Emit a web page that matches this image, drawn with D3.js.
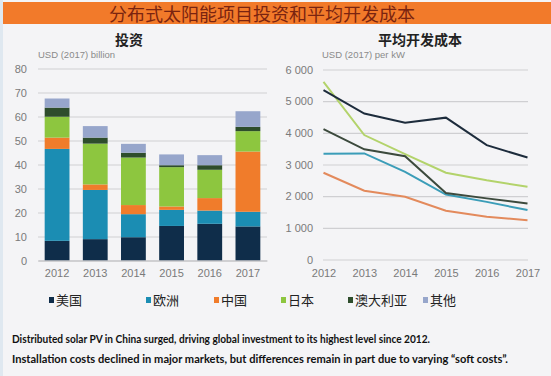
<!DOCTYPE html>
<html>
<head>
<meta charset="utf-8">
<script src="https://cdn.jsdelivr.net/npm/d3@7"></script>
<style>
  body { margin: 0; background: #f4f4f6; }
  svg { display: block; }
</style>
</head>
<body>
<div id="chart"></div>
<script>
// data
const years = ["2012", "2013", "2014", "2015", "2016", "2017"];
const regions = ["美国", "欧洲", "中国", "日本", "澳大利亚", "其他"];
const colors = ["#0f2d4a", "#1b8db3", "#f07c2b", "#8dc63f", "#2e4d2c", "#97a6cb"];
const lineColors = ["#1d2c3c", "#3b9db8", "#e38a5c", "#b3d36b", "#3c4a3d"];

// investment, USD (2017) billion, stacked segments per region
const invUS = [8.2, 8.9, 9.7, 14.4, 15.3, 14.2];
const invEU = [38.3, 20.5, 9.6, 6.7, 5.5, 6.1];
const invCN = [4.7, 2.3, 3.8, 1.4, 5.2, 25.1];
const invJP = [8.7, 17.0, 19.8, 16.4, 11.8, 8.5];
const invAU = [3.8, 2.5, 2.0, 0.8, 1.9, 1.8];
const invOther = [3.8, 4.8, 3.7, 4.5, 4.2, 6.5];

// average development cost, USD (2017) per kW
const costUS = [5350, 4610, 4320, 4480, 3610, 3220];
const costEU = [3340, 3350, 2770, 2050, 1820, 1560];
const costCN = [2740, 2170, 1980, 1540, 1350, 1240];
const costJP = [5610, 3930, 3330, 2740, 2500, 2300];
const costAU = [4120, 3480, 3260, 2100, 1930, 1770];

const leftTicks = [0, 10, 20, 30, 40, 50, 60, 70, 80];
const rightTicks = [0, 1000, 2000, 3000, 4000, 5000, 6000];

const width = 551, height = 376;
const cjk = "'Noto Sans CJK SC', sans-serif";
const latin = "'Liberation Sans', Arial, sans-serif";

const svg = d3.select("#chart").append("svg")
  .attr("width", width)
  .attr("height", height);

svg.append("rect").attr("width", width).attr("height", height).attr("fill", "#f4f4f6");
svg.append("rect").attr("width", 3).attr("height", height).attr("fill", "#dfe8f0");

// title banner
svg.append("rect").attr("x", 3).attr("y", 2).attr("width", width - 3).attr("height", 22).attr("fill", "#f27a2a");
svg.append("text")
  .attr("x", 262).attr("y", 21)
  .attr("text-anchor", "middle")
  .attr("font-family", cjk).attr("font-size", 18)
  .attr("fill", "#7a2410")
  .text("分布式太阳能项目投资和平均开发成本");

// ---------- left: stacked bars ----------
const invTable = years.map((y, i) => ({
  year: y,
  "美国": invUS[i], "欧洲": invEU[i], "中国": invCN[i],
  "日本": invJP[i], "澳大利亚": invAU[i], "其他": invOther[i]
}));
const stacked = d3.stack().keys(regions)(invTable);

const bx = d3.scaleBand().domain(years).range([38, 267]).paddingInner(0.35).paddingOuter(0.175);
const by = d3.scaleLinear().domain([0, 80]).range([260.5, 68.5]);

svg.append("text").attr("x", 129).attr("y", 45).attr("text-anchor", "middle")
  .attr("font-family", cjk).attr("font-size", 14).attr("font-weight", "bold").attr("fill", "#222")
  .text("投资");
svg.append("text").attr("x", 38).attr("y", 58)
  .attr("font-family", latin).attr("font-size", 9.5).attr("fill", "#8a8a8a")
  .text("USD (2017) billion");

const leftAxis = svg.append("g")
  .attr("transform", "translate(38,0)")
  .call(d3.axisLeft(by).tickValues(leftTicks).tickSize(-229).tickPadding(11));
leftAxis.select(".domain").remove();
leftAxis.selectAll(".tick line").attr("stroke", "#cfcfd2").attr("stroke-width", 1.2);
leftAxis.selectAll(".tick text").attr("font-family", latin).attr("font-size", 11).attr("fill", "#7a7a7a");

svg.append("g").selectAll("g")
  .data(stacked)
  .join("g")
  .attr("fill", (d, i) => colors[i])
  .selectAll("rect")
  .data(d => d)
  .join("rect")
  .attr("x", d => bx(d.data.year))
  .attr("width", bx.bandwidth())
  .attr("y", d => by(d[1]))
  .attr("height", d => by(d[0]) - by(d[1]));

const bottomLeft = svg.append("g")
  .attr("transform", "translate(0,260.5)")
  .call(d3.axisBottom(bx).tickSize(0).tickPadding(9));
bottomLeft.select(".domain").attr("stroke", "#bdbdc0");
bottomLeft.selectAll(".tick text").attr("font-family", latin).attr("font-size", 11).attr("fill", "#7a7a7a");

// ---------- right: lines ----------
const lx = d3.scalePoint().domain(years).range([323.5, 527.5]);
const ly = d3.scaleLinear().domain([0, 6000]).range([259.5, 69.5]);

svg.append("text").attr("x", 420).attr("y", 45).attr("text-anchor", "middle")
  .attr("font-family", cjk).attr("font-size", 14).attr("font-weight", "bold").attr("fill", "#222")
  .text("平均开发成本");
svg.append("text").attr("x", 322).attr("y", 58)
  .attr("font-family", latin).attr("font-size", 9.5).attr("fill", "#8a8a8a")
  .text("USD (2017) per kW");

const rightAxis = svg.append("g")
  .attr("transform", "translate(323,0)")
  .call(d3.axisLeft(ly).tickValues(rightTicks).tickSize(-205).tickPadding(10)
    .tickFormat(d => d3.format(",")(d).replace(",", " ")));
rightAxis.select(".domain").remove();
rightAxis.selectAll(".tick line").attr("stroke", "#cfcfd2").attr("stroke-width", 1.2);
rightAxis.selectAll(".tick text").attr("font-family", latin).attr("font-size", 11).attr("fill", "#7a7a7a");

const bottomRight = svg.append("g")
  .attr("transform", "translate(0,259.5)")
  .call(d3.axisBottom(lx).tickSize(0).tickPadding(10));
bottomRight.select(".domain").remove();
bottomRight.selectAll(".tick text").attr("font-family", latin).attr("font-size", 11).attr("fill", "#7a7a7a");

const costSeries = [costUS, costEU, costCN, costJP, costAU];
const line = d3.line().x((d, i) => lx(years[i])).y(d => ly(d));
// draw order: lighter lines first, dark ones on top
[3, 2, 1, 4, 0].forEach(k => {
  svg.append("path")
    .datum(costSeries[k])
    .attr("fill", "none")
    .attr("stroke", lineColors[k])
    .attr("stroke-width", 2)
    .attr("d", line);
});

// ---------- legend ----------
const legendX = [49, 146, 214, 281, 348, 423];
const legend = svg.append("g").selectAll("g")
  .data(regions)
  .join("g")
  .attr("transform", (d, i) => `translate(${legendX[i]},300)`);
legend.append("rect").attr("x", 0).attr("y", -3).attr("width", 5).attr("height", 6)
  .attr("fill", (d, i) => colors[i]);
legend.append("text").attr("x", 7).attr("y", 5)
  .attr("font-family", cjk).attr("font-size", 13).attr("fill", "#222")
  .text(d => d);

// ---------- notes ----------
svg.append("text").attr("x", 12).attr("y", 343)
  .attr("font-family", "Lato, sans-serif").attr("font-size", 11.5).attr("font-weight", "bold").attr("fill", "#111")
  .attr("textLength", 418).attr("lengthAdjust", "spacingAndGlyphs")
  .text("Distributed solar PV in China surged, driving global investment to its highest level since 2012.");
svg.append("text").attr("x", 12).attr("y", 363)
  .attr("font-family", "Lato, sans-serif").attr("font-size", 11.5).attr("font-weight", "bold").attr("fill", "#111")
  .attr("textLength", 496).attr("lengthAdjust", "spacingAndGlyphs")
  .text("Installation costs declined in major markets, but differences remain in part due to varying “soft costs”.");
</script>
</body>
</html>
